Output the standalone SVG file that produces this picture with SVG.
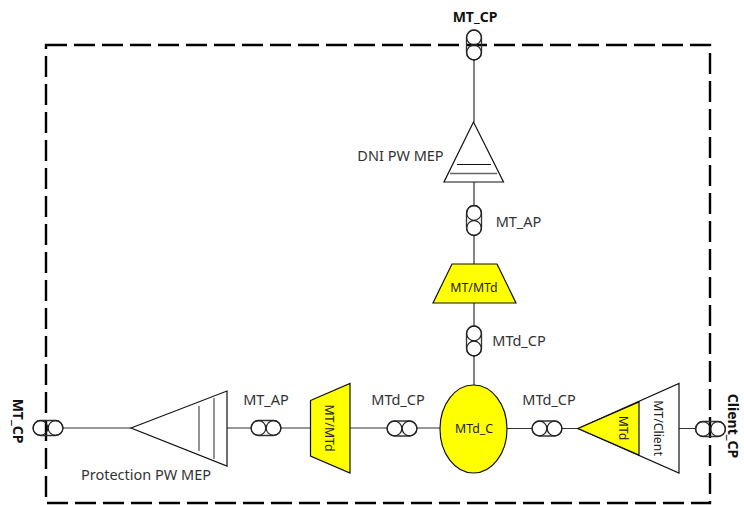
<svg xmlns="http://www.w3.org/2000/svg" width="744" height="505" viewBox="0 0 744 505">
<defs>
<g id="cpv"><rect x="-7.500" y="-15" width="15" height="30" rx="7.500" fill="none" stroke="#333" stroke-width="1.300"/><circle cx="0" cy="-7.500" r="7.300" fill="none" stroke="#222" stroke-width="1.200"/><circle cx="0" cy="7.500" r="7.300" fill="none" stroke="#222" stroke-width="1.200"/></g>
<g id="cph"><rect x="-15" y="-7.500" width="30" height="15" rx="7.500" fill="none" stroke="#333" stroke-width="1.300"/><circle cx="-7.500" cy="0" r="7.300" fill="none" stroke="#222" stroke-width="1.200"/><circle cx="7.500" cy="0" r="7.300" fill="none" stroke="#222" stroke-width="1.200"/></g>
</defs>
<style>
text{font-family:"Noto Sans","Open Sans","Liberation Sans",sans-serif;font-size:14.500px;fill:#333}
.b{font-weight:700;fill:#111;font-size:14px}
.s{font-size:12.300px;fill:#222}
.y{fill:#ffff00;stroke:#111;stroke-width:1.200}
.w{fill:#fff;stroke:#111;stroke-width:1.200}
.l{fill:none;stroke:#333;stroke-width:1.200}
.g{fill:none;stroke:#666;stroke-width:1.400}
.k{fill:none;stroke:#111;stroke-width:1.100}
</style>
<rect id="boundary" x="46" y="45" width="664" height="458" fill="none" stroke="#000" stroke-width="2.400" stroke-dasharray="21 7"/>
<g id="connectors">
<path class="l" d="M474 60V122M474 182V205M474 236V264M474 303V326M474 356V385"/>
<path class="l" d="M63 428H131M227 428H251M281 428H310M350 428H387M417 428H440M507 428.500H532M562 428.500H578M679 428.500H696"/>
</g>
<g id="cp-top"><use href="#cpv" x="474" y="45"/><text class="b" x="475" y="22" text-anchor="middle">MT_CP</text></g>
<g id="dni-mep"><polygon class="w" points="473.500,122 444,182 503.500,182"/><path class="k" d="M457 164.500H491"/><path class="g" d="M450 173.500H497"/><text x="400.500" y="161" text-anchor="middle">DNI PW MEP</text></g>
<g id="ap-v"><use href="#cpv" x="474" y="220.500"/><text x="518.500" y="227" text-anchor="middle">MT_AP</text></g>
<g id="mt-mtd-v"><polygon class="y" points="452,264 497,264 516,303 433,303"/><text class="s" x="474" y="292" text-anchor="middle">MT/MTd</text></g>
<g id="cpd-v"><use href="#cpv" x="474" y="341"/><text x="519" y="346" text-anchor="middle">MTd_CP</text></g>
<g id="cp-left"><use href="#cph" x="48" y="428"/><text class="b" transform="translate(13 421) rotate(90)" text-anchor="middle">MT_CP</text></g>
<g id="protection-mep"><polygon class="w" points="131,428 227,391 227,466"/><path class="g" d="M199 406V451M214 398V459"/><text x="146" y="480" text-anchor="middle">Protection PW MEP</text></g>
<g id="ap-h"><use href="#cph" x="266" y="428"/><text x="266" y="405" text-anchor="middle">MT_AP</text></g>
<g id="mt-mtd-h"><polygon class="y" points="310.500,400.500 350,383.500 350,473 310.500,456"/><text class="s" transform="translate(325 428) rotate(90)" text-anchor="middle">MT/MTd</text></g>
<g id="cpd-h1"><use href="#cph" x="402" y="428.500"/><text x="398" y="405" text-anchor="middle">MTd_CP</text></g>
<g id="mtd-c"><ellipse class="y" cx="473.500" cy="429" rx="33.500" ry="44"/><text class="s" x="474" y="433" text-anchor="middle">MTd_C</text></g>
<g id="cpd-h2"><use href="#cph" x="547" y="428.500"/><text x="549" y="405" text-anchor="middle">MTd_CP</text></g>
<g id="mt-client"><polygon class="w" points="578,428.500 679,383.500 679,473"/><polygon class="y" points="578,428.500 639,402 639,455"/><text class="s" transform="translate(619 428) rotate(90)" text-anchor="middle">MTd</text><text class="s" transform="translate(654 428) rotate(90)" text-anchor="middle">MT/Client</text></g>
<g id="cp-right"><use href="#cph" x="710.500" y="429"/><text class="b" transform="translate(728 426) rotate(90)" text-anchor="middle">Client_CP</text></g>
</svg>
